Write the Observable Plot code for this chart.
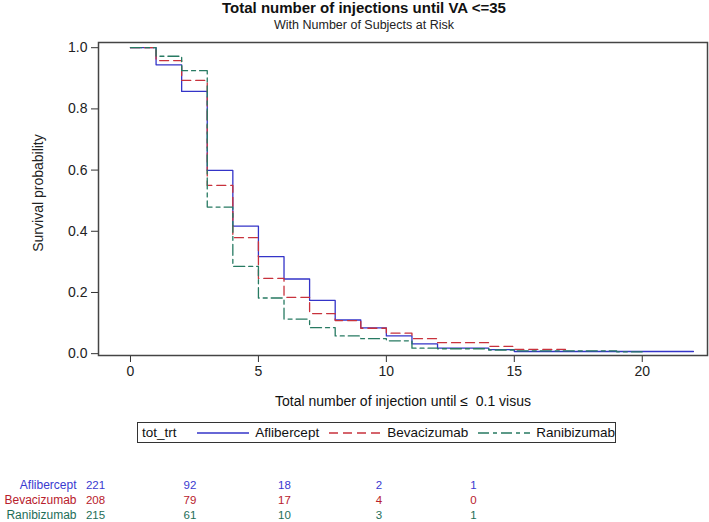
<!DOCTYPE html>
<html><head><meta charset="utf-8">
<script src="https://cdn.jsdelivr.net/npm/d3@7"></script>
<script src="https://cdn.jsdelivr.net/npm/@observablehq/plot@0.6"></script>
<style>
body{margin:0;background:#fff;font-family:"Liberation Sans",Arial,sans-serif;}
#wrap{position:relative;width:709px;height:522px;overflow:hidden;}
.abs{position:absolute;white-space:nowrap;}
#legend{position:absolute;left:137px;top:422px;width:477px;height:19px;border:1.5px solid #333;display:flex;align-items:center;font-size:13.5px;color:#111;}
#legend span{display:inline-block;}
</style></head>
<body><div id="wrap"></div>
<script>
// ---- data ----
const treatments = ["Aflibercept", "Bevacizumab", "Ranibizumab"];
const colors = ["#3434c8", "#c8323c", "#277a62"];
const textColors = ["#3a3ad0", "#b8202c", "#1e6e58"];
// survival estimates at t = 0,1,2,... (step-after)
const aflibercept = [1.000,0.944,0.857,0.599,0.417,0.317,0.244,0.174,0.110,0.084,0.058,0.032,0.018,0.018,0.013,0.007,0.007,0.007,0.007,0.007,0.007,0.007,0.007];
const bevacizumab = [1.000,0.958,0.893,0.550,0.379,0.246,0.184,0.131,0.108,0.083,0.067,0.049,0.036,0.036,0.024,0.014,0.014,0.014];
const ranibizumab = [1.000,0.972,0.925,0.479,0.285,0.182,0.113,0.085,0.058,0.049,0.042,0.018,0.016,0.016,0.012,0.009,0.009,0.009,0.009,0.006,0.006];
const xTicks = [0, 5, 10, 15, 20];
const yTicks = [0, 0.2, 0.4, 0.6, 0.8, 1.0];
const riskTimes = [0, 5, 10, 15, 20];
const riskAflibercept = [221, 92, 18, 2, 1];
const riskBevacizumab = [208, 79, 17, 4, 0];
const riskRanibizumab = [215, 61, 10, 3, 1];

const series = [aflibercept, bevacizumab, ranibizumab];
const dashes = [null, "9,5", "11,4,4,4"];
const wrap = document.getElementById("wrap");

const lineMarks = series.map((vals, k) => Plot.line(
  vals.map((s, i) => ({t: i, s})),
  {x: "t", y: "s", stroke: colors[k], strokeWidth: 1.3, strokeDasharray: dashes[k], curve: "step-after"}
));

const main = Plot.plot({
  width: 709, height: 410,
  marginLeft: 98, marginRight: 2, marginTop: 42, marginBottom: 55,
  style: {fontFamily: "Liberation Sans, Arial, sans-serif", fontSize: "14px", color: "#222", background: "transparent"},
  x: {domain: [-1.25, 22.55]},
  y: {domain: [-0.006, 1.017]},
  marks: [
    Plot.axisX({ticks: xTicks, tickSize: 7, tickPadding: 4, fontSize: 14, label: null, stroke: "#333"}),
    Plot.axisY({ticks: yTicks, tickSize: 7, tickPadding: 4, fontSize: 14, tickFormat: d3.format(".1f"), label: null, stroke: "#333"}),
    ...lineMarks,
    Plot.frame({stroke: "#444", strokeWidth: 1.5})
  ]
});
main.style.position = "absolute"; main.style.left = "0px"; main.style.top = "0px";
wrap.appendChild(main);

function addText(txt, css) {
  const d = document.createElement("div");
  d.className = "abs"; d.textContent = txt;
  Object.assign(d.style, css);
  wrap.appendChild(d);
  return d;
}
addText("Total number of injections until VA <=35", {left: "364px", top: "0px", lineHeight: "16px", transform: "translateX(-50%)", fontWeight: "bold", fontSize: "15px", color: "#111"});
addText("With Number of Subjects at Risk", {left: "364px", top: "18px", lineHeight: "15px", transform: "translateX(-50%)", fontSize: "12.5px", color: "#222"});
addText("Total number of injection until \u2264  0.1 visus", {left: "403px", top: "393px", transform: "translateX(-50%)", fontSize: "14px", color: "#111", whiteSpace: "pre"});
addText("Survival probability", {left: "38px", top: "193px", transform: "translate(-50%,-50%) rotate(-90deg)", fontSize: "14px", color: "#222"});

// legend
const lg = document.createElement("div");
lg.id = "legend";
function sample(color, dash) {
  return `<svg width="54" height="10" style="margin:0 5px 0 0"><line x1="1" x2="53" y1="5" y2="5" stroke="${color}" stroke-width="1.3" ${dash ? `stroke-dasharray="${dash}"` : ""}/></svg>`;
}
lg.innerHTML = `<span style="margin-left:4px;width:58px">tot_trt</span>` +
  treatments.map((t, k) => `<span style="margin-left:${k === 0 ? 0 : 9}px;display:flex;align-items:center">${sample(colors[k], dashes[k])}${t}</span>`).join("");
wrap.appendChild(lg);

// number at risk table
const riskRows = [riskAflibercept, riskBevacizumab, riskRanibizumab];
const riskData = riskRows.flatMap((row, k) => row.map((n, i) => ({t: riskTimes[i], n, trt: treatments[k], c: textColors[k]})));
const risk = Plot.plot({
  width: 709, height: 52, margin: 0,
  style: {fontFamily: "Liberation Sans, Arial, sans-serif", background: "transparent"},
  x: {domain: [0, 20], range: [95, 473], axis: null},
  y: {type: "point", domain: treatments, range: [14, 45], padding: 0, axis: null},
  marks: [
    Plot.text(riskData, {x: "t", y: "trt", text: d => String(d.n), fill: "c", fontSize: 11.5}),
    Plot.text(riskData.filter(d => d.t === 0), {y: "trt", text: "trt", fill: "c", frameAnchor: "left", dx: 76, textAnchor: "end", fontSize: 12})
  ]
});
risk.style.position = "absolute"; risk.style.left = "0px"; risk.style.top = "470px";
wrap.appendChild(risk);
</script>
</body></html>
